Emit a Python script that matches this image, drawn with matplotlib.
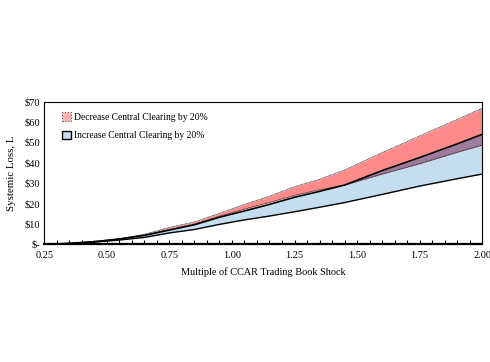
import numpy as np
import matplotlib
matplotlib.use("Agg")
import matplotlib.pyplot as plt
from matplotlib.patches import Patch
from matplotlib.ticker import MultipleLocator, FuncFormatter

plt.rcParams['font.family'] = ['Liberation Serif', 'DejaVu Serif']

# multiple of CCAR trading book shock
shock = [0.25, 0.35, 0.45, 0.55, 0.65, 0.75, 0.85, 0.95, 1.05, 1.15,
         1.25, 1.35, 1.45, 1.60, 1.75, 1.90, 2.00]

# decrease central clearing by 20% (band)
dec_hi = [0.0, 0.5, 1.4, 2.8, 4.9, 8.3, 11.0, 15.2, 19.6, 23.6,
          28.3, 31.9, 36.5, 45.0, 53.2, 61.3, 66.8]
dec_lo = [0.0, 0.5, 1.4, 2.7, 4.6, 7.3, 10.0, 13.8, 17.3, 20.6,
          24.0, 26.8, 29.1, 34.5, 39.6, 45.2, 48.7]

# increase central clearing by 20% (band)
inc_hi = [0.0, 0.5, 1.3, 2.6, 4.4, 7.0, 9.6, 13.3, 16.4, 19.6,
          23.1, 26.0, 29.1, 36.2, 42.6, 49.3, 54.0]
inc_lo = [0.0, 0.4, 1.1, 2.1, 3.4, 5.6, 7.3, 9.8, 12.0, 13.9,
          16.0, 18.2, 20.5, 24.5, 28.6, 32.2, 34.5]

x = np.array(shock)
dh, dl = np.array(dec_hi), np.array(dec_lo)
ih, il = np.array(inc_hi), np.array(inc_lo)

red = '#FF8A8A'
blue = '#C4DEF0'
purple = '#9E7C9E'

fig = plt.figure(figsize=(4.9, 3.62), dpi=100)
ax = fig.add_axes([0.0904, 0.325, 0.8936, 0.394])

ax.fill_between(x, il, ih, color=blue, lw=0)
ax.fill_between(x, dl, dh, color=red, lw=0)
ax.fill_between(x, dl, ih, where=ih > dl, interpolate=True, color=purple, lw=0)

ax.plot(x, dh, color='#222222', lw=0.6, ls=(0, (1, 0.6)))
ax.plot(x, dl, color='#222222', lw=0.6, ls=(0, (1, 0.6)))
ax.plot(x, ih, color='black', lw=1.2)
ax.plot(x, il, color='black', lw=1.0)

ax.set_xlim(0.25, 2.0)
ax.set_ylim(0, 70)
ax.xaxis.set_major_locator(MultipleLocator(0.25))
ax.xaxis.set_minor_locator(MultipleLocator(0.05))
ax.xaxis.set_major_formatter(FuncFormatter(lambda v, p: f"{v:.2f}"))
ax.yaxis.set_major_locator(MultipleLocator(10))
ax.yaxis.set_major_formatter(FuncFormatter(lambda v, p: "$-" if v == 0 else f"${v:.0f}"))

ax.tick_params(axis='x', which='both', direction='in', length=3, width=0.8, labelsize=7.5, pad=5)
ax.tick_params(axis='y', which='both', length=0, labelsize=7.5, pad=3)
for s in ax.spines.values():
    s.set_linewidth(0.8)
ax.spines['bottom'].set_linewidth(1.6)

ax.set_xlabel('Multiple of CCAR Trading Book Shock', fontsize=7.4, labelpad=5)
ax.set_ylabel('Systemic Loss, L', fontsize=7.8, labelpad=6)

handles = [Patch(facecolor='#FFB0B0', edgecolor='#555555', ls=':', lw=0.8),
           Patch(facecolor=blue, edgecolor='black', lw=1.0)]
ax.legend(handles, ['Decrease Central Clearing by 20%', 'Increase Central Clearing by 20%'],
          loc='upper left', bbox_to_anchor=(0.02, 0.985), frameon=False, fontsize=6.9,
          handlelength=1.0, handleheight=1.0, handletextpad=0.3, labelspacing=0.9)

fig.savefig('out.png', dpi=100)
